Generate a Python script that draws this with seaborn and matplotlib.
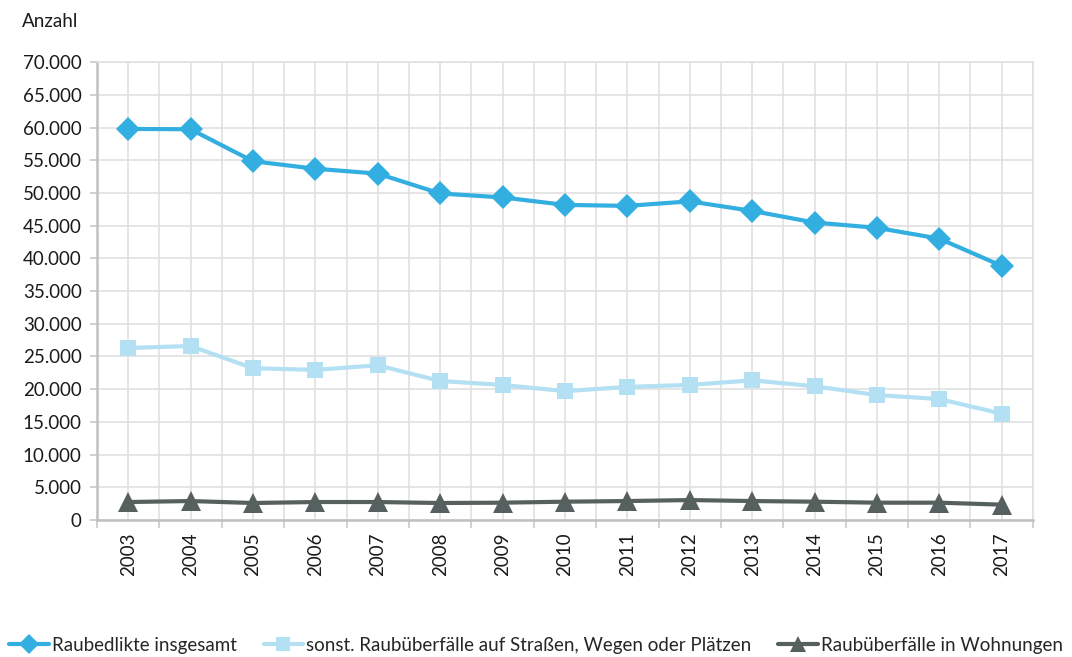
import matplotlib
matplotlib.use("Agg")
import matplotlib.pyplot as plt
import seaborn as sns
import pandas as pd
import numpy as np
from matplotlib.ticker import FuncFormatter, MultipleLocator

years = list(range(2003, 2018))
raub_total = [59782, 59732, 54841, 53696, 52949, 49913, 49317, 48166, 48021, 48711, 47250, 45475, 44666, 43009, 38849]
raub_strasse = [26300, 26600, 23200, 22950, 23650, 21250, 20650, 19700, 20350, 20650, 21350, 20450, 19100, 18500, 16250]
raub_wohnung = [2750, 2900, 2600, 2750, 2750, 2600, 2650, 2800, 2900, 3050, 2900, 2800, 2650, 2650, 2350]
series_names = ["Raubedlikte insgesamt",
                "sonst. Raubüberfälle auf Straßen, Wegen oder Plätzen",
                "Raubüberfälle in Wohnungen"]
colors = ["#33aee0", "#b3e1f3", "#56605f"]
markers = ["D", "s", "^"]

sns.set_theme(style="white")
plt.rcParams['font.family'] = ['Lato', 'DejaVu Sans']

df = pd.concat([
    pd.DataFrame({"Jahr": years, "Anzahl": vals, "Serie": name})
    for name, vals in zip(series_names, [raub_total, raub_strasse, raub_wohnung])
])

fig = plt.figure(figsize=(10.72, 6.57), dpi=100)
ax = fig.add_axes([0.0905, 0.2085, 0.873, 0.697])

sns.lineplot(data=df, x="Jahr", y="Anzahl", hue="Serie", style="Serie",
             palette=dict(zip(series_names, colors)),
             markers=dict(zip(series_names, markers)),
             dashes=False, linewidth=3, markersize=12, markeredgewidth=0,
             ax=ax, legend=True)
for ln in ax.lines:
    if ln.get_marker() == "^":
        ln.set_markersize(14)

ax.set_xlim(2002.5, 2017.5)
ax.set_ylim(0, 70000)
ax.yaxis.set_major_locator(MultipleLocator(5000))
ax.yaxis.set_major_formatter(FuncFormatter(lambda v, p: f"{int(v):,}".replace(",", ".")))
ax.set_xticks(years)
ax.set_xticklabels([str(y) for y in years], rotation=90, fontsize=13.5, color="#1a1a1a")
ax.set_xticks(np.arange(2002.5, 2018, 1), minor=True)
ax.tick_params(axis="x", which="major", length=0, pad=9)
ax.tick_params(axis="x", which="minor", length=6, width=1.2, color="#c8c8c8", direction="out", bottom=True)
ax.tick_params(axis="y", which="major", length=5, width=1.2, color="#c8c8c8", direction="out", left=True,
               labelsize=13.5, labelcolor="#1a1a1a", pad=6)
ax.grid(True, which="major", axis="both", color="#e0e0e0", linewidth=1.2)
ax.grid(True, which="minor", axis="x", color="#e0e0e0", linewidth=1.2)
ax.set_axisbelow(True)
for s in ["left", "bottom"]:
    ax.spines[s].set_color("#c0c0c0")
    ax.spines[s].set_linewidth(1.8)
for s in ["top", "right"]:
    ax.spines[s].set_color("#e0e0e0")
    ax.spines[s].set_linewidth(1.2)
ax.set_xlabel("")
ax.set_ylabel("")

fig.text(0.02, 0.968, "Anzahl", fontsize=13.5, color="#1a1a1a", ha="left", va="center")

handles, labels = ax.get_legend_handles_labels()
ax.legend_.remove()
for h in handles:
    h.set_markersize(12 if h.get_marker() == "^" else 10)
fig.legend(handles, labels, loc="center", bbox_to_anchor=(0.5, 0.018), ncol=3,
           frameon=False, fontsize=13.5, handlelength=2.1, handletextpad=0.15,
           columnspacing=1.45, borderaxespad=0, borderpad=0)

fig.savefig("out.png", dpi=100)
